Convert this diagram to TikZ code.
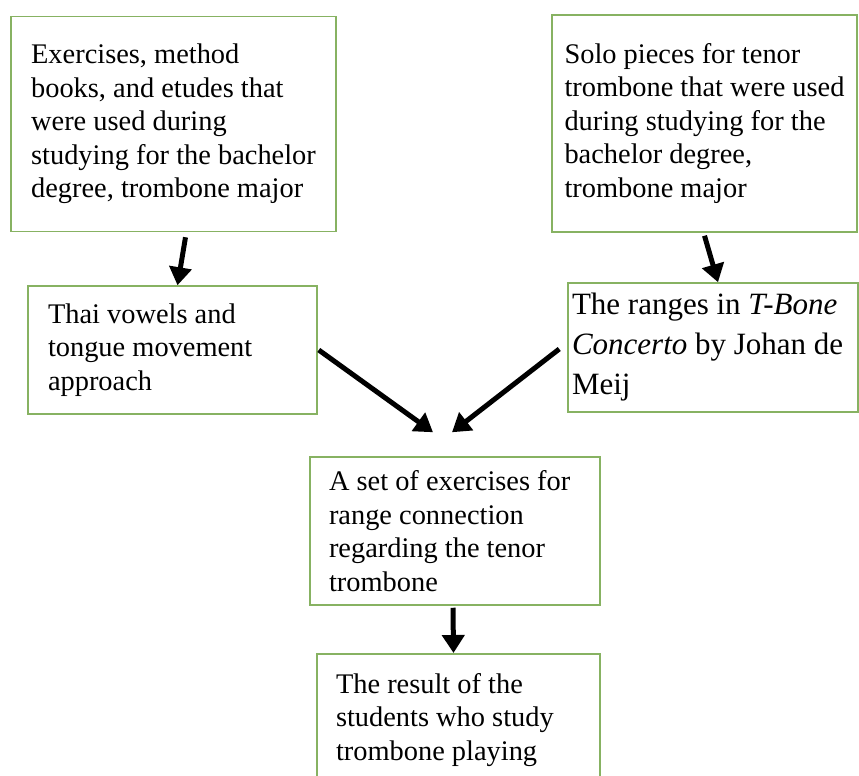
\documentclass[tikz,border=0pt]{standalone}
\usepackage{fontspec}
\setmainfont{Liberation Serif}
\usepackage{xcolor}
\usepackage{tikz}
\usetikzlibrary{arrows.meta}

\definecolor{boxgreen}{RGB}{135,178,98}

\begin{document}
\begin{tikzpicture}[x=1pt, y=-1pt,
    box/.style={draw=boxgreen, line width=1.5pt, rectangle, align=flush left, inner sep=0pt,
      font=\fontsize{28.4}{33.5}\selectfont},
    flow/.style={-{Triangle[width=22pt,length=18pt]}, line width=5pt}]
            \useasboundingbox (0,0) rectangle (859,776);
            \clip (0,0) rectangle (859,776);

            % sources
            \node[box, minimum width=325pt, minimum height=215pt] (ex) at (173.5,124)
                {Exercises, method\\books, and etudes that\\were used during\\studying for the bachelor\\degree, trombone major};
            \node[box, minimum width=305pt, minimum height=217pt] (solo) at (704.5,123.5)
                {Solo pieces for tenor\\trombone that were used\\during studying for the\\bachelor degree,\\trombone major};

            % approaches
            \node[box, text width=249pt, minimum width=289pt, minimum height=128pt] (thai) at (172.5,350)
                {Thai vowels and\\tongue movement\\approach};
            \node[box, text width=282pt, minimum width=290pt, minimum height=129pt,
                  font=\fontsize{31}{40}\selectfont] (tbone) at (713,347.5)
                {The ranges in \textit{T-Bone}\\\textit{Concerto} by Johan de\\Meij};

            % exercises and result
            \node[box, text width=252pt, minimum width=290pt, minimum height=148pt] (set) at (455,531)
                {A set of exercises for\\range connection\\regarding the tenor\\trombone};
            \node[box, text width=245pt, minimum width=283pt, minimum height=132pt, anchor=north] (res) at (458.5,653)
                {The result of the\\students who study\\trombone playing};

            % arrows
            \draw[flow] ([xshift=12pt,yshift=-5pt]ex.south) -- ([xshift=5pt]thai.north);
            \draw[flow] ([yshift=-3pt]solo.south) -- ([xshift=5pt]tbone.north);
            \draw[flow] ([xshift=1pt]thai.east) -- ([xshift=-22pt,yshift=24pt]set.north);
            \draw[flow] ([xshift=-8pt,yshift=-1.5pt]tbone.west) -- ([xshift=-3pt,yshift=24pt]set.north);
            \draw[flow] ([xshift=-2pt,yshift=-2pt]set.south) -- ([xshift=-5pt]res.north);
        \end{tikzpicture}
\end{document}
